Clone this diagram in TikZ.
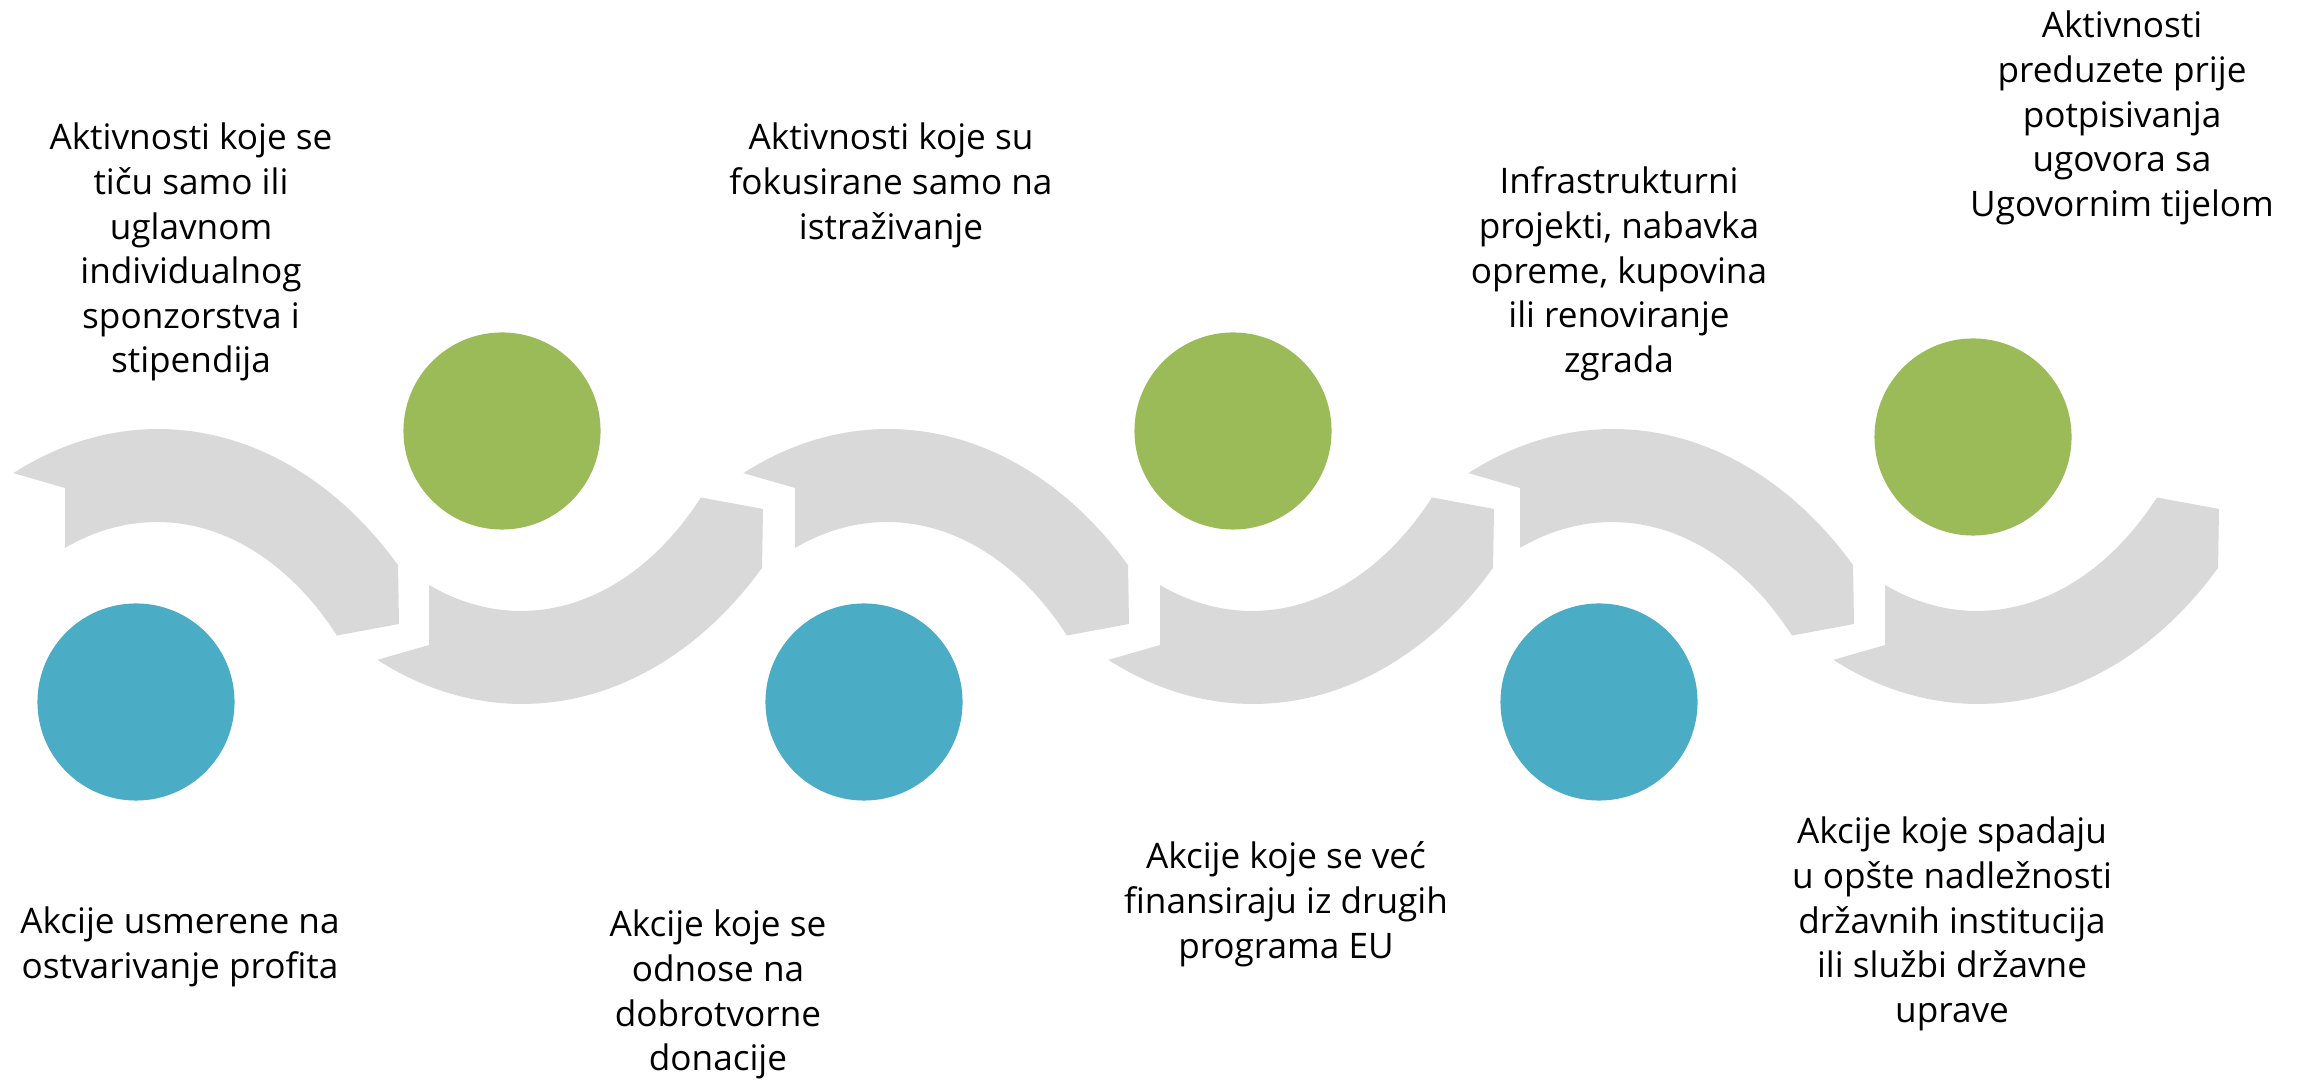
\documentclass[tikz,border=0pt]{standalone}
\usepackage{fontspec}
\setmainfont{Open Sans}
\definecolor{arcgray}{HTML}{D9D9D9}
\definecolor{dotgreen}{HTML}{9BBB59}
\definecolor{dotblue}{HTML}{4BACC6}
\newcommand\topln{\rule{0pt}{1em}}
\tikzset{
  wavearc/.pic={
    \fill[arcgray] (13,473) -- (65,488) -- (65,547)
      -- plot[domain=112:43,samples=60,variable=\t] ({157+246*cos(\t)},{879-357*sin(\t)})
      -- (399,624) -- (398,564)
      -- plot[domain=44.2:115.6,samples=60,variable=\t] ({158+335*cos(\t)},{879-450*sin(\t)})
      -- cycle;
  },
  dot/.style={circle, minimum size=1.97cm, inner sep=0pt, draw=none},
  txt/.style={anchor=north, inner sep=0pt, align=center, text=black,
    font=\fontsize{10}{12.69}\selectfont},
}
\begin{document}
\begin{tikzpicture}[x=0.01cm, y=-0.01cm]
\fill[white] (0,0) rectangle (2306,1080);
\useasboundingbox (0,0) rectangle (2306,1080);

% upper arcs
\pic at (0,0) {wavearc};
\pic at (730,0) {wavearc};
\pic at (1455,0) {wavearc};
% lower arcs (mirrored)
\pic[yscale=-1] at (364,1133) {wavearc};
\pic[yscale=-1] at (1095,1133) {wavearc};
\pic[yscale=-1] at (1820,1133) {wavearc};

% circles
\node[dot, fill=dotgreen] (g1) at (502,431) {};
\node[dot, fill=dotgreen] (g2) at (1233,431) {};
\node[dot, fill=dotgreen] (g3) at (1973,437) {};
\node[dot, fill=dotblue] (b1) at (136,702) {};
\node[dot, fill=dotblue] (b2) at (864,702) {};
\node[dot, fill=dotblue] (b3) at (1599,702) {};

% texts (position = first baseline - 1em)
\node[txt] (t1) at (191,114) {\topln Aktivnosti koje se\\tiču samo ili\\uglavnom\\individualnog\\sponzorstva i\\stipendija};
\node[txt] (t2) at (891,114) {\topln Aktivnosti koje su\\fokusirane samo na\\istraživanje};
\node[txt] (t3) at (1619,158) {\topln Infrastrukturni\\projekti, nabavka\\opreme, kupovina\\ili renoviranje\\zgrada};
\node[txt] (t4) at (2122,2) {\topln Aktivnosti\\preduzete prije\\potpisivanja\\ugovora sa\\Ugovornim tijelom};
\node[txt] (t5) at (180,898) {\topln Akcije usmerene na\\ostvarivanje profita};
\node[txt] (t6) at (718,901) {\topln Akcije koje se\\odnose na\\dobrotvorne\\donacije};
\node[txt] (t7) at (1286,833) {\topln Akcije koje se već\\finansiraju iz drugih\\programa EU};
\node[txt] (t8) at (1952,808) {\topln Akcije koje spadaju\\u opšte nadležnosti\\državnih institucija\\ili službi državne\\uprave};
\end{tikzpicture}
\end{document}
